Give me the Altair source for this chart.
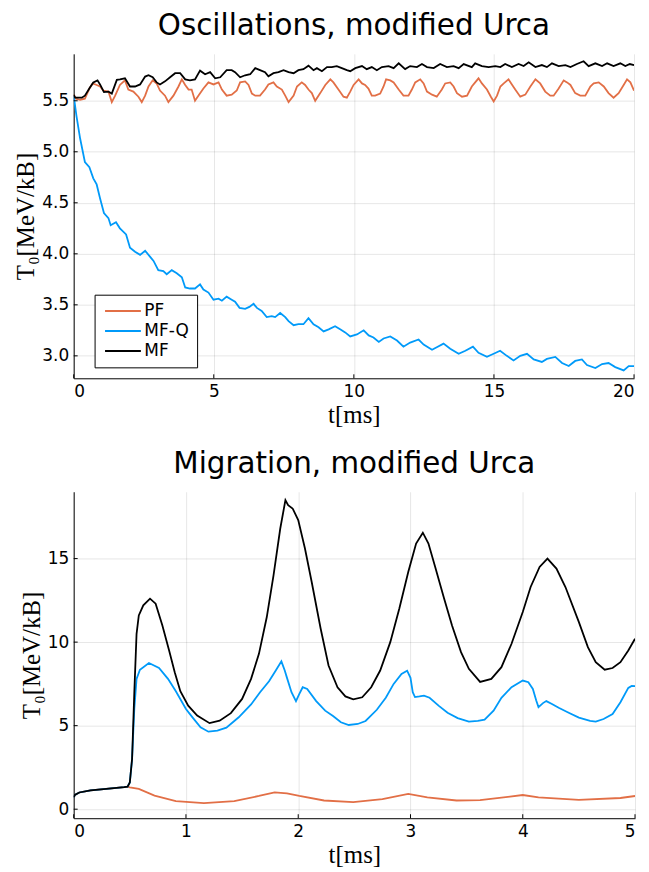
import altair as alt
import pandas as pd

SERIES = ["PF", "MF-Q", "MF"]
COLORS = ["#e26f46", "#009af9", "#000000"]

# ---------- Top panel: Oscillations (t in ms, T0 in MeV/kB) ----------
osc_pf = [(0.00,5.56),(0.08,5.52),(0.23,5.51),(0.40,5.52),(0.56,5.62),(0.68,5.67),(0.82,5.655),(0.94,5.64),(1.06,5.60),(1.24,5.59),(1.36,5.487),(1.48,5.55),(1.65,5.655),(1.83,5.70),(1.95,5.61),(2.13,5.59),(2.31,5.54),(2.43,5.487),(2.55,5.55),(2.67,5.64),(2.82,5.70),(2.96,5.67),(3.08,5.60),(3.26,5.55),(3.38,5.487),(3.56,5.55),(3.74,5.64),(3.86,5.71),(3.98,5.655),(4.10,5.61),(4.21,5.61),(4.33,5.50),(4.45,5.55),(4.63,5.62),(4.81,5.68),(4.99,5.66),(5.17,5.68),(5.29,5.61),(5.46,5.55),(5.64,5.56),(5.82,5.60),(5.94,5.68),(6.12,5.69),(6.24,5.655),(6.36,5.57),(6.48,5.55),(6.65,5.55),(6.83,5.61),(6.95,5.66),(7.13,5.68),(7.25,5.64),(7.43,5.61),(7.55,5.55),(7.67,5.487),(7.85,5.55),(7.97,5.64),(8.14,5.68),(8.26,5.655),(8.38,5.61),(8.50,5.575),(8.62,5.50),(8.80,5.575),(8.98,5.655),(9.16,5.71),(9.27,5.68),(9.45,5.61),(9.63,5.54),(9.75,5.53),(9.87,5.59),(9.99,5.655),(10.17,5.71),(10.29,5.67),(10.40,5.655),(10.52,5.62),(10.64,5.55),(10.76,5.55),(10.94,5.57),(11.06,5.64),(11.15,5.71),(11.30,5.70),(11.42,5.68),(11.60,5.61),(11.77,5.55),(11.95,5.55),(12.07,5.61),(12.19,5.68),(12.37,5.71),(12.49,5.67),(12.61,5.59),(12.79,5.56),(12.96,5.54),(13.14,5.61),(13.26,5.67),(13.44,5.68),(13.56,5.64),(13.68,5.575),(13.86,5.54),(14.04,5.55),(14.21,5.64),(14.33,5.68),(14.45,5.72),(14.57,5.67),(14.75,5.61),(14.89,5.54),(14.99,5.494),(15.11,5.55),(15.23,5.64),(15.35,5.67),(15.52,5.71),(15.64,5.66),(15.76,5.61),(15.94,5.54),(16.12,5.56),(16.30,5.64),(16.48,5.71),(16.65,5.67),(16.83,5.59),(17.01,5.55),(17.13,5.55),(17.31,5.62),(17.49,5.70),(17.61,5.68),(17.73,5.655),(17.90,5.575),(18.08,5.55),(18.26,5.55),(18.44,5.64),(18.56,5.67),(18.74,5.68),(18.92,5.64),(19.09,5.575),(19.27,5.53),(19.45,5.575),(19.63,5.655),(19.75,5.71),(19.87,5.68),(20.00,5.60)]

osc_mf = [(0.00,5.56),(0.05,5.53),(0.29,5.53),(0.40,5.55),(0.58,5.63),(0.70,5.68),(0.85,5.70),(0.94,5.66),(1.08,5.585),(1.24,5.59),(1.36,5.57),(1.54,5.705),(1.65,5.71),(1.83,5.72),(2.01,5.64),(2.19,5.64),(2.37,5.66),(2.55,5.737),(2.67,5.75),(2.82,5.73),(2.96,5.68),(3.08,5.66),(3.26,5.69),(3.44,5.73),(3.62,5.77),(3.80,5.77),(3.98,5.71),(4.15,5.70),(4.33,5.71),(4.51,5.795),(4.69,5.76),(4.87,5.78),(5.05,5.72),(5.23,5.73),(5.46,5.80),(5.64,5.80),(5.76,5.78),(5.94,5.73),(6.12,5.75),(6.30,5.76),(6.48,5.82),(6.65,5.80),(6.83,5.78),(6.95,5.74),(7.13,5.77),(7.31,5.78),(7.49,5.80),(7.67,5.78),(7.85,5.77),(8.02,5.80),(8.20,5.81),(8.38,5.844),(8.56,5.80),(8.68,5.82),(8.86,5.79),(9.04,5.83),(9.21,5.83),(9.39,5.84),(9.57,5.82),(9.75,5.80),(9.87,5.79),(10.05,5.82),(10.29,5.84),(10.46,5.81),(10.64,5.83),(10.82,5.80),(11.00,5.83),(11.24,5.84),(11.42,5.82),(11.60,5.867),(11.83,5.81),(12.01,5.84),(12.25,5.83),(12.43,5.86),(12.61,5.83),(12.85,5.82),(13.08,5.86),(13.32,5.83),(13.56,5.84),(13.74,5.82),(13.92,5.86),(14.21,5.83),(14.33,5.867),(14.57,5.84),(14.81,5.83),(15.05,5.84),(15.23,5.83),(15.40,5.86),(15.64,5.83),(15.88,5.86),(16.06,5.84),(16.24,5.877),(16.48,5.83),(16.71,5.85),(16.89,5.83),(17.07,5.867),(17.31,5.84),(17.55,5.85),(17.73,5.83),(17.96,5.86),(18.20,5.887),(18.38,5.84),(18.62,5.867),(18.86,5.84),(19.04,5.867),(19.27,5.84),(19.51,5.867),(19.69,5.84),(19.85,5.86),(20.00,5.85)]

osc_mfq = [(0.00,5.55),(0.10,5.35),(0.23,5.13),(0.40,4.90),(0.56,4.85),(0.70,4.74),(0.82,4.68),(0.94,4.545),(1.08,4.40),(1.24,4.35),(1.32,4.28),(1.51,4.31),(1.65,4.25),(1.87,4.19),(2.01,4.06),(2.19,4.02),(2.37,3.99),(2.55,4.03),(2.73,3.97),(2.85,3.93),(3.02,3.84),(3.20,3.83),(3.32,3.80),(3.50,3.84),(3.68,3.81),(3.86,3.77),(3.98,3.67),(4.15,3.66),(4.33,3.66),(4.51,3.70),(4.63,3.65),(4.81,3.62),(4.99,3.55),(5.17,3.56),(5.29,3.54),(5.46,3.58),(5.64,3.55),(5.76,3.53),(5.92,3.47),(6.12,3.46),(6.27,3.48),(6.42,3.51),(6.54,3.47),(6.71,3.44),(6.89,3.38),(7.07,3.39),(7.19,3.38),(7.37,3.42),(7.55,3.38),(7.67,3.34),(7.85,3.30),(8.02,3.31),(8.20,3.31),(8.38,3.37),(8.56,3.31),(8.74,3.28),(8.92,3.24),(9.10,3.26),(9.33,3.29),(9.51,3.26),(9.69,3.23),(9.87,3.19),(10.11,3.21),(10.35,3.25),(10.53,3.20),(10.70,3.18),(10.89,3.136),(11.06,3.17),(11.30,3.19),(11.54,3.15),(11.77,3.09),(12.01,3.13),(12.31,3.16),(12.49,3.11),(12.79,3.06),(12.96,3.085),(13.20,3.12),(13.44,3.07),(13.74,3.02),(13.98,3.05),(14.25,3.09),(14.45,3.03),(14.75,2.99),(14.99,3.02),(15.22,3.05),(15.46,3.00),(15.70,2.955),(15.94,3.00),(16.18,3.02),(16.42,2.965),(16.71,2.94),(16.89,2.97),(17.19,2.99),(17.43,2.93),(17.67,2.90),(17.90,2.95),(18.14,2.965),(18.32,2.91),(18.62,2.88),(18.86,2.92),(19.09,2.93),(19.33,2.89),(19.63,2.857),(19.81,2.90),(20.00,2.90)]

# ---------- Bottom panel: Migration ----------
mig_start = [(0.00,0.71),(0.01,0.85),(0.05,1.00),(0.15,1.12),(0.29,1.22),(0.45,1.32),(0.48,1.35)]

mig_pf = [(0.50,1.31),(0.58,1.21),(0.72,0.81),(0.91,0.48),(1.16,0.36),(1.43,0.48),(1.65,0.79),(1.79,1.01),(1.90,0.95),(2.01,0.79),(2.23,0.52),(2.49,0.42),(2.75,0.60),(2.98,0.91),(3.15,0.71),(3.41,0.52),(3.62,0.54),(4.00,0.85),(4.14,0.71),(4.50,0.56),(4.87,0.67),(5.00,0.79)]

mig_mfq = [(0.50,1.6),(0.52,3.0),(0.54,6.0),(0.56,7.8),(0.59,8.35),(0.67,8.75),(0.76,8.45),(0.84,7.8),(0.91,7.06),(1.00,6.0),(1.06,5.48),(1.13,4.9),(1.20,4.64),(1.28,4.7),(1.36,4.88),(1.47,5.5),(1.58,6.27),(1.66,7.0),(1.74,7.66),(1.80,8.3),(1.85,8.85),(1.88,8.3),(1.90,7.86),(1.94,7.0),(1.98,6.47),(2.01,6.9),(2.04,7.3),(2.08,7.2),(2.16,6.47),(2.24,5.9),(2.31,5.58),(2.38,5.2),(2.45,5.04),(2.53,5.1),(2.60,5.28),(2.70,5.95),(2.78,6.67),(2.85,7.5),(2.92,8.1),(2.97,8.29),(3.00,7.86),(3.02,7.0),(3.04,6.71),(3.08,6.75),(3.12,6.8),(3.17,6.67),(3.25,6.2),(3.33,5.77),(3.42,5.45),(3.52,5.24),(3.60,5.28),(3.66,5.36),(3.74,5.9),(3.81,6.67),(3.90,7.3),(4.00,7.70),(4.05,7.6),(4.09,7.2),(4.12,6.5),(4.14,6.11),(4.18,6.35),(4.21,6.47),(4.26,6.3),(4.32,6.07),(4.40,5.8),(4.50,5.48),(4.60,5.28),(4.65,5.24),(4.72,5.4),(4.80,5.7),(4.87,6.4),(4.94,7.26),(4.97,7.38),(5.00,7.36)]

mig_mf = [(0.50,1.6),(0.52,3.0),(0.54,7.0),(0.56,10.5),(0.58,11.6),(0.62,12.2),(0.68,12.6),(0.73,12.3),(0.79,11.0),(0.85,9.5),(0.90,8.2),(0.95,7.06),(1.02,6.2),(1.10,5.6),(1.21,5.15),(1.30,5.3),(1.40,5.75),(1.50,6.6),(1.58,7.8),(1.65,9.3),(1.72,11.5),(1.78,14.0),(1.84,16.8),(1.886,18.5),(1.91,18.2),(1.95,18.0),(2.00,17.3),(2.06,15.6),(2.12,13.6),(2.20,10.8),(2.27,8.6),(2.35,7.3),(2.42,6.75),(2.49,6.57),(2.57,6.7),(2.65,7.3),(2.73,8.3),(2.82,10.0),(2.90,12.0),(2.98,14.2),(3.05,15.9),(3.11,16.55),(3.16,15.9),(3.22,14.5),(3.30,12.6),(3.37,11.0),(3.45,9.4),(3.52,8.4),(3.62,7.62),(3.72,7.8),(3.81,8.5),(3.90,9.9),(4.00,11.8),(4.07,13.3),(4.15,14.5),(4.22,15.0),(4.30,14.4),(4.38,13.3),(4.50,11.2),(4.58,9.7),(4.65,8.8),(4.73,8.35),(4.80,8.45),(4.87,8.8),(4.94,9.5),(5.00,10.2)]

osc_xticks = [0, 5, 10, 15, 20]
osc_yticks = [3.0, 3.5, 4.0, 4.5, 5.0, 5.5]
mig_xticks = [0, 1, 2, 3, 4, 5]
mig_yticks = [0, 5, 10, 15]


def frame(pairs, name):
    return pd.DataFrame({"t": [p[0] for p in pairs], "T": [p[1] for p in pairs], "series": name})


osc_df = pd.concat([frame(osc_pf, "PF"), frame(osc_mfq, "MF-Q"), frame(osc_mf, "MF")], ignore_index=True)
mig_df = pd.concat([frame(mig_start + mig_pf, "PF"), frame(mig_start + mig_mfq, "MF-Q"),
                    frame(mig_start + mig_mf, "MF")], ignore_index=True)

YTITLE = "T₀[MeV/kB]"
XTITLE = "t[ms]"


def panel(df, title, xdom, xticks, ydom, yticks, yfmt, w, h, legx, legy):
    X = alt.X("t:Q", scale=alt.Scale(domain=xdom, nice=False, zero=False),
              axis=alt.Axis(values=xticks, title=XTITLE, format="d"))
    Y = alt.Y("T:Q", scale=alt.Scale(domain=ydom, nice=False, zero=False),
              axis=alt.Axis(values=yticks, title=YTITLE, format=yfmt))
    color = alt.Color("series:N", scale=alt.Scale(domain=SERIES, range=COLORS),
                      legend=alt.Legend(orient="none", legendX=legx, legendY=legy, title=None,
                                        strokeColor="black", fillColor="white", padding=8,
                                        symbolType="M-1,0H5", symbolSize=144, symbolStrokeWidth=2,
                                        labelFontSize=17, labelFont="DejaVu Sans", labelColor="black",
                                        labelOffset=25, rowPadding=2))
    layers = []
    for s in SERIES:
        layers.append(
            alt.Chart(df).transform_filter(alt.datum.series == s)
            .mark_line(strokeWidth=1.8, clip=True)
            .encode(x=X, y=Y, color=color)
        )
    xt = alt.Chart(pd.DataFrame({"t": xticks})).mark_rule(color="black", strokeWidth=1).encode(
        x=X, y=alt.value(h), y2=alt.value(h - 4))
    yt = alt.Chart(pd.DataFrame({"T": yticks})).mark_rule(color="black", strokeWidth=1).encode(
        y=Y, x=alt.value(0), x2=alt.value(4))
    return alt.layer(*layers, xt, yt).properties(
        width=w, height=h,
        title=alt.TitleParams(title, fontSize=29.5, font="DejaVu Sans", fontWeight="normal",
                              anchor="middle", color="black", offset=12),
    )


top = panel(osc_df, "Oscillations, modified Urca", [0, 20], osc_xticks, [2.78, 5.96], osc_yticks,
            ".1f", 563, 326, 21, 242)
bottom = panel(mig_df, "Migration, modified Urca", [0, 5], mig_xticks, [-0.54, 19.0], mig_yticks,
               "d", 564, 328, 15, 10)

chart = alt.vconcat(top, bottom, spacing=22, background="white",
                    padding={"left": 5, "top": 1, "right": 5, "bottom": 5}).configure_view(
    stroke=None
).configure_axis(
    labelFont="DejaVu Sans", labelFontSize=17, labelColor="black", labelPadding=5,
    domainColor="black", domainWidth=1, tickSize=0,
    grid=True, gridColor="black", gridOpacity=0.1, gridWidth=1,
    titleFont="Liberation Serif", titleFontSize=25, titleFontWeight="normal", titleColor="black",
    titlePadding=3,
)

chart.save("out.html", embed_options={"renderer": "svg", "actions": False})
